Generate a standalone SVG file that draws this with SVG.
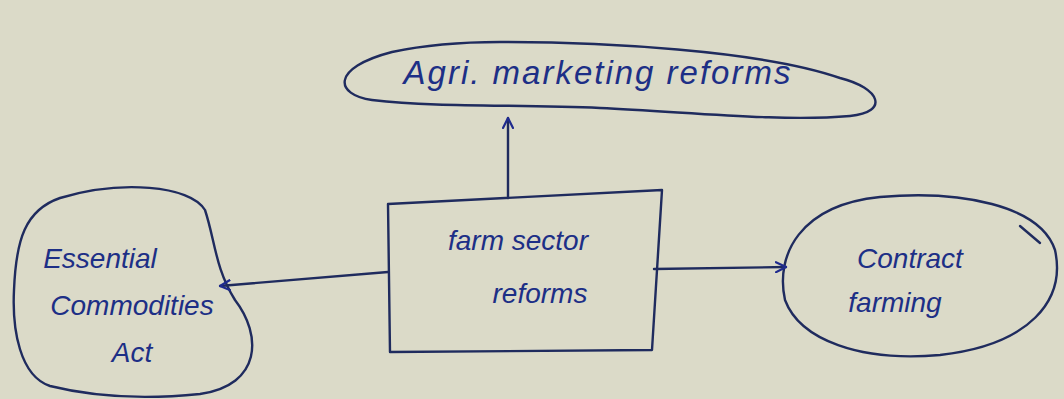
<svg xmlns="http://www.w3.org/2000/svg" width="1064" height="399" viewBox="0 0 1064 399">
<style>
.ink{fill:none;stroke:#1f2b5e;stroke-width:2.4;stroke-linecap:round;stroke-linejoin:round}
.lbl{font-family:"Liberation Sans",Arial,sans-serif;fill:#1d2f86;font-size:28px;font-style:italic}
.big{font-size:33px;letter-spacing:2px}
</style>
<defs>
<marker id="ah" viewBox="0 0 12 12" refX="11" refY="6" markerWidth="12" markerHeight="12" markerUnits="userSpaceOnUse" orient="auto">
<path d="M1,1 L11,6 L1,11" fill="none" stroke="#1f2b8e" stroke-width="2.2" stroke-linecap="round"/>
</marker>
</defs>
<rect width="1064" height="399" fill="#dbdac8"/>
<g id="agri">
<path class="ink" d="M392,52 C330,68 335,95 372,100 C440,108 520,104 600,108 C690,112 780,122 850,116 C890,112 880,88 840,78 C760,50 600,42 500,42 C450,42 420,46 392,52"/>
<text class="lbl big" x="598" y="84" text-anchor="middle">Agri. marketing reforms</text>
</g>
<g id="farm">
<path class="ink" d="M388,204 L662,190 L652,350 L390,352 Z"/>
<text class="lbl" x="518" y="250" text-anchor="middle">farm sector</text>
<text class="lbl" x="540" y="303" text-anchor="middle">reforms</text>
</g>
<g id="essential">
<path class="ink" d="M60,198 C120,180 190,185 205,210 C215,240 215,268 235,300 C262,335 262,385 200,394 C140,400 90,396 50,386 C20,376 12,330 14,290 C16,240 25,210 60,198 Z"/>
<text class="lbl" x="100" y="268" text-anchor="middle">Essential</text>
<text class="lbl" x="132" y="315" text-anchor="middle">Commodities</text>
<text class="lbl" x="132" y="362" text-anchor="middle">Act</text>
</g>
<g id="contract">
<path class="ink" d="M880,197 C960,190 1040,205 1055,250 C1066,300 1030,345 940,355 C860,362 800,340 785,300 C775,255 800,205 880,197 Z"/>
<path class="ink" d="M1020,226 L1040,243"/>
<text class="lbl" x="910" y="268" text-anchor="middle">Contract</text>
<text class="lbl" x="895" y="312" text-anchor="middle">farming</text>
</g>
<g id="connectors">
<path class="ink" d="M508,198 L508,118" marker-end="url(#ah)"/>
<path class="ink" d="M388,272 L220,286" marker-end="url(#ah)"/>
<path class="ink" d="M654,269 L786,267" marker-end="url(#ah)"/>
</g>
</svg>
